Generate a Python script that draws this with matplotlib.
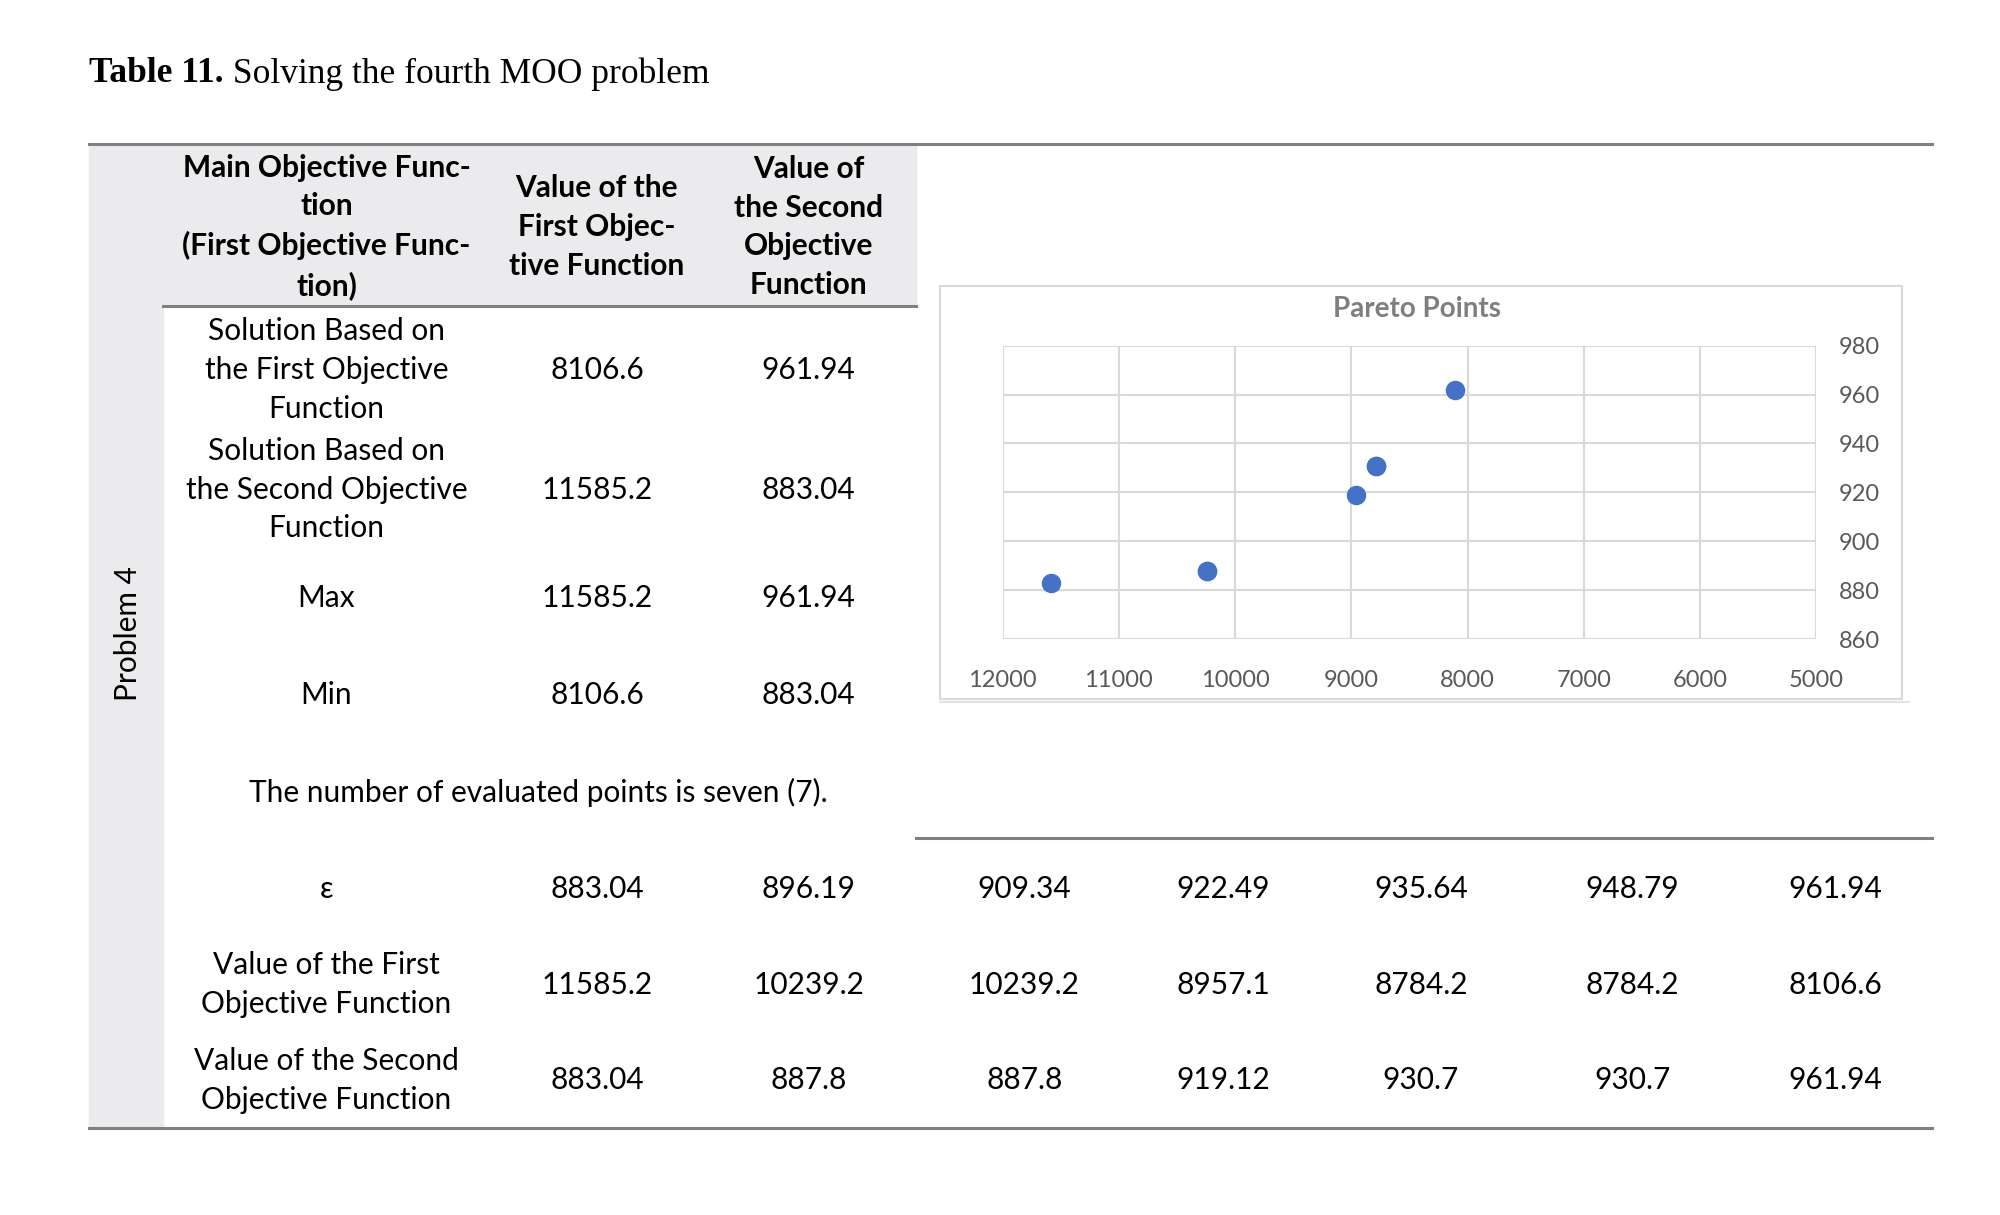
import matplotlib.pyplot as plt
from matplotlib.patches import Rectangle
from matplotlib.lines import Line2D

# table data
title_bold = "Table 11."
title_rest = " Solving the fourth MOO problem"
group_label = "Problem 4"
header = ["Main Objective Func-\ntion\n(First Objective Func-\ntion)",
          "Value of the\nFirst Objec-\ntive Function",
          "Value of\nthe Second\nObjective\nFunction"]
row_labels = ["Solution Based on\nthe First Objective\nFunction",
              "Solution Based on\nthe Second Objective\nFunction",
              "Max", "Min"]
first_values = ["8106.6", "11585.2", "11585.2", "8106.6"]
second_values = ["961.94", "883.04", "961.94", "883.04"]
note = "The number of evaluated points is seven (7)."
eps_label = "ε"
f1_label = "Value of the First\nObjective Function"
f2_label = "Value of the Second\nObjective Function"
eps = [883.04, 896.19, 909.34, 922.49, 935.64, 948.79, 961.94]
f1 = [11585.2, 10239.2, 10239.2, 8957.1, 8784.2, 8784.2, 8106.6]
f2 = [883.04, 887.8, 887.8, 919.12, 930.7, 930.7, 961.94]
chart_title = "Pareto Points"
x_ticks = [12000, 11000, 10000, 9000, 8000, 7000, 6000, 5000]
y_ticks = [860, 880, 900, 920, 940, 960, 980]

# layout measured in a 1568 x 952.5 view of the page
W, H = 1568.0, 952.5
def X(x):
    return x / W
def Y(y):
    return 1 - y / H

fig = plt.figure(figsize=(20, 12.15), dpi=100)
font = "Lato"
fs = 21.5
ls = 1.46
rule = "#808080"

# background bands
fig.patches.append(Rectangle((X(70), Y(884)), X(128) - X(70), Y(113) - Y(884),
                             transform=fig.transFigure, color="#ebebed", zorder=0))
fig.patches.append(Rectangle((X(128), Y(240)), X(718) - X(128), Y(113) - Y(240),
                             transform=fig.transFigure, color="#ebebed", zorder=0))

# rules
def hline(x0, x1, y, lw=2.2):
    fig.lines.append(Line2D([X(x0), X(x1)], [Y(y), Y(y)], transform=fig.transFigure,
                            color=rule, lw=lw))
hline(70, 1515, 113)
hline(128, 718, 240)
hline(718, 1515, 657)
hline(70, 1515, 884)

# title
t = fig.text(X(70), Y(58), title_bold, family="Liberation Serif", weight="bold",
             fontsize=25.5, va="center", ha="left")
fig.canvas.draw()
bb = t.get_window_extent()
fig.text(bb.x1 / fig.bbox.width, Y(58), title_rest, family="Liberation Serif",
         fontsize=25.5, va="center", ha="left")

fig.text(X(100), Y(497), group_label, family=font, fontsize=fs, rotation=90,
         va="center", ha="center")

col_x = [256, 468, 634]
for cx, txt in zip(col_x, header):
    fig.text(X(cx), Y(178), txt, family=font, weight="bold", fontsize=fs,
             ha="center", va="center", linespacing=ls)

row_y = [290, 384, 469, 545]
for ry, lab, v1, v2 in zip(row_y, row_labels, first_values, second_values):
    fig.text(X(256), Y(ry), lab, family=font, fontsize=fs, ha="center", va="center",
             linespacing=ls)
    fig.text(X(468), Y(ry), v1, family=font, fontsize=fs, ha="center", va="center")
    fig.text(X(634), Y(ry), v2, family=font, fontsize=fs, ha="center", va="center")

fig.text(X(422), Y(621), note, family=font, fontsize=fs, ha="center", va="center")

val_x = [468, 634, 803, 959, 1114, 1280, 1439]
for ry, lab, vals in [(697, eps_label, eps), (772, f1_label, f1), (847, f2_label, f2)]:
    fig.text(X(256), Y(ry), lab, family=font, fontsize=fs, ha="center", va="center",
             linespacing=ls)
    for vx, v in zip(val_x, vals):
        fig.text(X(vx), Y(ry), f"{v:g}", family=font, fontsize=fs, ha="center", va="center")

# chart frame
fig.patches.append(Rectangle((X(737), Y(548)), X(1491) - X(737), Y(224) - Y(548),
                             transform=fig.transFigure, facecolor="white",
                             edgecolor="#d9d9d9", lw=1.5, zorder=1))
fig.lines.append(Line2D([X(737), X(1497)], [Y(550), Y(550)], transform=fig.transFigure,
                        color="#e3e3e3", lw=1.5))
fig.text(X(1111), Y(242), chart_title, family=font, weight="bold", fontsize=20,
         color="#7f7f7f", ha="center", va="center")

ax = fig.add_axes([X(786), Y(501), X(1424) - X(786), Y(271) - Y(501)])
ax.set_zorder(2)
ax.scatter(f1, f2, s=170, color="#4472c4", zorder=3)
ax.set_xlim(12000, 5000)
ax.set_ylim(860, 980)
ax.set_xticks(x_ticks)
ax.set_yticks(y_ticks)
ax.grid(True, color="#d9d9d9", lw=1.5)
ax.set_axisbelow(True)
for s in ax.spines.values():
    s.set_visible(False)
ax.yaxis.tick_right()
ax.tick_params(length=0, labelsize=17, labelcolor="#595959")
ax.tick_params(axis="x", pad=22)
ax.tick_params(axis="y", pad=16)
for lab in ax.get_xticklabels() + ax.get_yticklabels():
    lab.set_family(font)

fig.savefig("out.png", dpi=100)
